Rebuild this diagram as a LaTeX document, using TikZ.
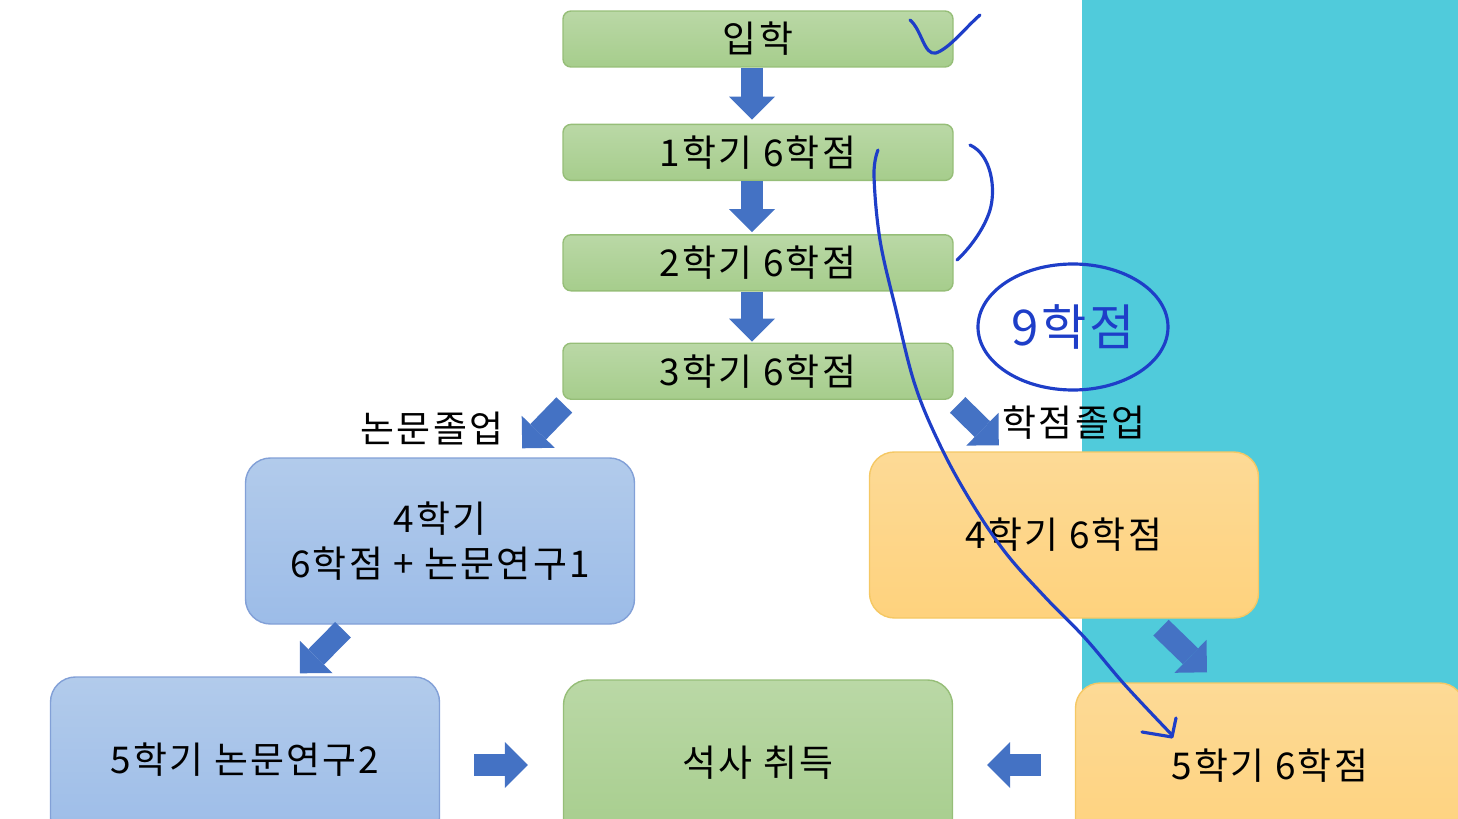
\documentclass[tikz,border=0pt]{standalone}
\usepackage{fontspec}
\setmainfont{Noto Sans CJK KR}[LetterSpace=6]
\usepackage{xcolor}
\usepackage{tikz}
\usetikzlibrary{arrows.meta,positioning,shapes.geometric,calc}

\definecolor{greentop}{RGB}{186,216,166}
\definecolor{greenbot}{RGB}{166,205,140}
\definecolor{greenline}{RGB}{150,190,120}
\definecolor{bluetop}{RGB}{178,203,235}
\definecolor{bluebot}{RGB}{156,188,232}
\definecolor{blueline}{RGB}{130,160,215}
\definecolor{orangetop}{RGB}{253,218,150}
\definecolor{orangebot}{RGB}{254,210,125}
\definecolor{orangeline}{RGB}{245,200,100}
\definecolor{arrowblue}{RGB}{68,114,196}
\definecolor{cyanbg}{RGB}{80,203,219}
\definecolor{ink}{RGB}{30,62,200}

\begin{document}
\begin{tikzpicture}[
x=0.1mm, y=-0.1mm,
txt/.style={font=\fontsize{10.5pt}{12.6pt}\selectfont},
greenbox/.style={txt, draw=greenline, rounded corners=0.08cm, top color=greentop, bottom color=greenbot, minimum width=3.9cm, minimum height=0.56cm, inner sep=0pt},
bigbox/.style={txt, rounded corners=0.25cm, align=center, minimum width=3.89cm, minimum height=1.66cm},
bluebox/.style={bigbox, draw=blueline, top color=bluetop, bottom color=bluebot},
orangebox/.style={bigbox, draw=orangeline, top color=orangetop, bottom color=orangebot},
degreebox/.style={bigbox, draw=greenline, top color=greentop, bottom color=greenbot},
blockarrow/.style={draw=arrowblue, line width=0.22cm, -{Triangle[width=0.46cm, length=0.23cm, line width=0pt]}},
stroke/.style={ink, line width=0.9pt, line cap=round, line join=round}
]
\useasboundingbox (0,0) rectangle (1458,819);
\clip (0,0) rectangle (1458,819);
\fill[cyanbg] (1082,0) rectangle (1458,690);

% semester column
\node[greenbox] (enter) at (758,39) {입학};
\node[greenbox, below=0.56cm of enter] (sem1) {1학기 6학점};
\node[greenbox, below=0.53cm of sem1] (sem2) {2학기 6학점};
\node[greenbox, below=0.51cm of sem2] (sem3) {3학기 6학점};

% two tracks
\node[bluebox] (thesisA) at (440,541) {4학기\\6학점 + 논문연구1};
\node[orangebox] (creditA) at (1064,535) {4학기 6학점};
\node[bluebox] (thesisB) at (245,760) {5학기 논문연구2};
\node[degreebox] (degree) at (758,763) {석사 취득};
\node[orangebox] (creditB) at (1270,766) {5학기 6학점};

\node[txt] (thesislbl) at (432,428) {논문졸업};
\node[txt] (creditlbl) at (1074,423) {학점졸업};

\draw[blockarrow] ($(enter.south)+(-6,0)$) -- ($(sem1.north)+(-6,-4)$);
\draw[blockarrow] ($(sem1.south)+(-6,0)$) -- ($(sem2.north)+(-6,-2)$);
\draw[blockarrow] ($(sem2.south)+(-6,0)$) -- ($(sem3.north)+(-6,-1)$);
\draw[blockarrow] ($(sem3.south west)+(2,5)$) -- ($(thesisA.north east)+(-113,-9)$);
\draw[blockarrow] ($(sem3.south east)+(4,5)$) -- ($(creditA.north west)+(130,-6)$);
\draw[blockarrow] ($(thesisA.south)+(-97,5)$) -- ($(thesisB.north)+(55,-3)$);
\draw[blockarrow] ($(creditA.south)+(97,9)$) -- ($(creditB.north)+(-63,-10)$);
\draw[blockarrow] ($(thesisB.east)+(34,5)$) -- ($(degree.west)+(-35,2)$);
\draw[blockarrow] ($(creditB.west)+(-34,-1)$) -- ($(degree.east)+(34,2)$);

% pen notes
\draw[stroke] (910,20) .. controls (922,30) and (924,56) .. (936,53) .. controls (950,48) and (965,28) .. (980,15);
\draw[stroke] (970,145) .. controls (992,155) and (996,190) .. (990,210) .. controls (984,230) and (968,250) .. (957,260);
\node[stroke, draw, ellipse, inner sep=0pt, minimum width=1.9cm, minimum height=1.26cm, font=\fontsize{14pt}{16pt}\selectfont, text=ink] (ninecredits) at (1073,327) {9학점};
\draw[stroke] plot[smooth, tension=0.6] coordinates {(878,150) (874,175) (880,240) (896,310) (915,385) (940,445) (970,500) (1005,552) (1045,597) (1085,638) (1125,685) (1172,735)};
\draw[stroke] (1176,718) -- (1172,737) -- (1142,732);
\end{tikzpicture}
\end{document}
